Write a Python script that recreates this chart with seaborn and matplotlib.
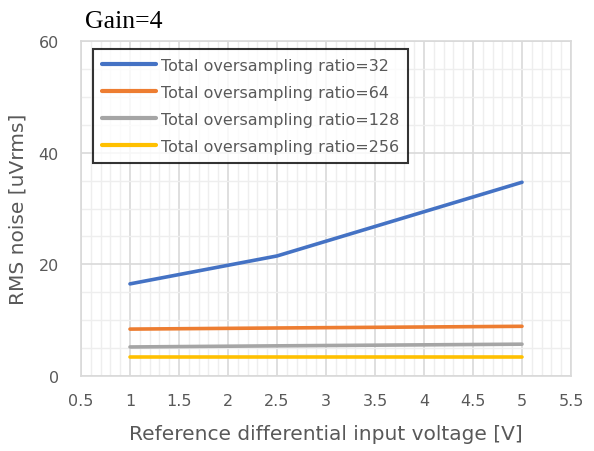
import matplotlib.pyplot as plt
import seaborn as sns
import pandas as pd
from matplotlib.ticker import MultipleLocator

voltage = [1, 2.5, 5]
ratios = ['32', '64', '128', '256']
noise_32 = [16.5, 21.5, 34.7]
noise_64 = [8.4, 8.6, 8.9]
noise_128 = [5.2, 5.4, 5.7]
noise_256 = [3.4, 3.4, 3.4]

rows = []
for r, vals in zip(ratios, [noise_32, noise_64, noise_128, noise_256]):
    for v, n in zip(voltage, vals):
        rows.append({'voltage': v, 'noise': n, 'ratio': 'Total oversampling ratio=' + r})
df = pd.DataFrame(rows)

sns.set_theme(style='white')
plt.rcParams['font.family'] = ['DejaVu Sans']

fig = plt.figure(figsize=(5.94, 4.52), dpi=100)
ax = fig.add_axes([81 / 594, 1 - 377 / 452, 490 / 594, 335 / 452])

palette = ['#4472C4', '#ED7D31', '#A5A5A5', '#FFC000']
sns.lineplot(data=df, x='voltage', y='noise', hue='ratio', palette=palette,
             linewidth=2.6, ax=ax, zorder=3)

ax.set_xlim(0.5, 5.5)
ax.set_ylim(0, 60)
ax.xaxis.set_major_locator(MultipleLocator(0.5))
ax.xaxis.set_minor_locator(MultipleLocator(0.1))
ax.yaxis.set_major_locator(MultipleLocator(20))
ax.yaxis.set_minor_locator(MultipleLocator(5))
ax.set_xticklabels([f'{v:g}' for v in ax.get_xticks()])
ax.grid(which='major', color='#D9D9D9', linewidth=1.2)
ax.grid(which='minor', color='#EEEEEE', linewidth=1.0)
ax.set_axisbelow(True)
ax.tick_params(which='both', length=0, labelsize=11.5, colors='#595959')
ax.tick_params(axis='x', pad=12)
ax.tick_params(axis='y', pad=16)
for s in ax.spines.values():
    s.set_color('#D9D9D9')
    s.set_linewidth(1.2)

ax.set_xlabel('Reference differential input voltage [V]', fontsize=14.5, color='#595959', labelpad=12)
ax.set_ylabel('RMS noise [uVrms]', fontsize=14.5, color='#595959', labelpad=8)

leg = ax.legend(loc='upper left', bbox_to_anchor=(0.0245, 0.976), borderaxespad=0,
                fontsize=11.5, frameon=True, fancybox=False, handlelength=3.4,
                handletextpad=0.3, labelspacing=0.75, borderpad=0.55)
leg.get_frame().set_edgecolor('black')
leg.get_frame().set_linewidth(1.5)
for t in leg.get_texts():
    t.set_color('#595959')
for h in leg.get_lines():
    h.set_linewidth(3)

fig.text(85 / 594, 1 - 22 / 452, 'Gain=4', fontsize=18.5, family='Liberation Serif',
         color='black', va='center', ha='left')

fig.savefig('out.png', dpi=100)
